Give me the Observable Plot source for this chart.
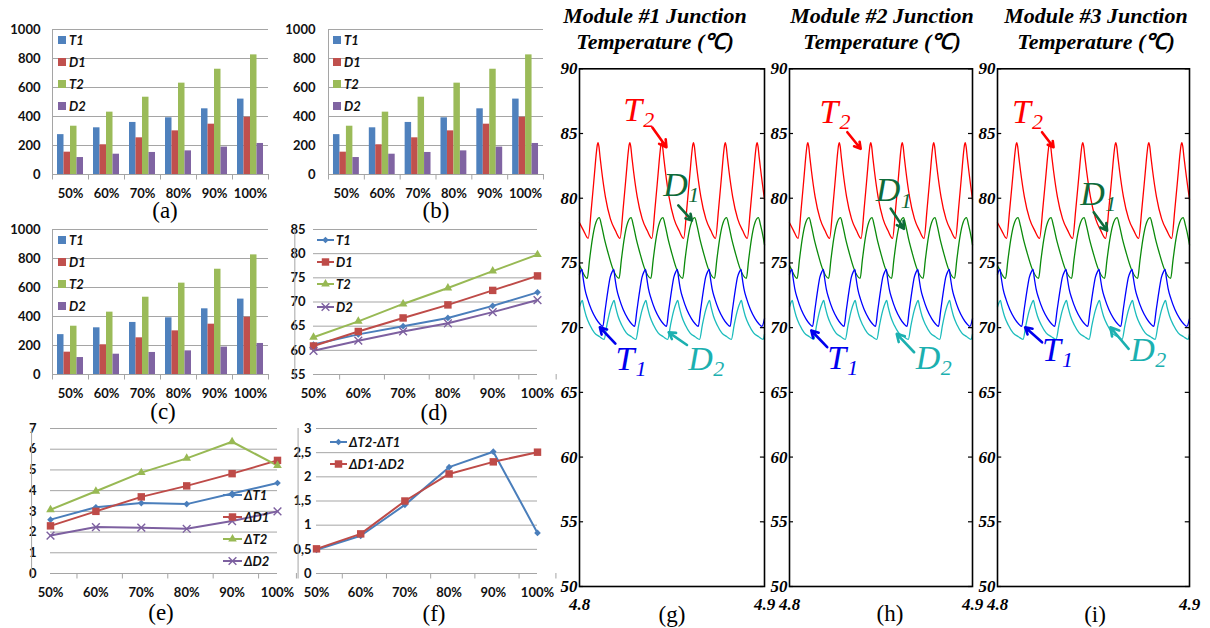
<!DOCTYPE html>
<html>
<head>
<meta charset="utf-8">
<script src="https://cdn.jsdelivr.net/npm/d3@7"></script>
<script src="https://cdn.jsdelivr.net/npm/@observablehq/plot@0.6"></script>
<style>
html, body { margin: 0; padding: 0; background: #fff; }
#root { position: relative; width: 1210px; height: 628px; overflow: hidden; background: #fff; }
.cap { position: absolute; font-family: "Liberation Serif", "Times New Roman", serif; font-size: 23px; line-height: 20px; transform: translate(-50%, -50%); white-space: nowrap; color: #000; }
.ttl { position: absolute; font-family: "Liberation Serif", serif; font-weight: bold; font-style: italic; font-size: 22px; line-height: 26px; text-align: center; transform: translateX(-50%); white-space: nowrap; color: #000; }
.lg { position: absolute; font-family: Lato, "Liberation Sans", sans-serif; font-weight: bold; font-style: italic; font-size: 13px; line-height: 16px; white-space: nowrap; color: #111; }
.sw { position: absolute; width: 8px; height: 8px; }
</style>
</head>
<body>
<div id="root"></div>
<script>
// ---------------- data ----------------
const loadLevels = ["50%", "60%", "70%", "80%", "90%", "100%"];
const barSeries = ["T1", "D1", "T2", "D2"];
// (a)(b)(c) losses
const lossT1 = [275, 322, 359, 391, 453, 520];
const lossD1 = [154, 205, 253, 301, 347, 395];
const lossT2 = [333, 430, 533, 630, 726, 825];
const lossD2 = [117, 140, 152, 163, 189, 214];
const barTicks = [0, 200, 400, 600, 800, 1000];
// (d) mean temperatures
const tempT1 = [61.2, 63.3, 65.0, 66.7, 69.2, 72.0];
const tempD1 = [60.9, 63.9, 66.7, 69.4, 72.4, 75.4];
const tempT2 = [62.7, 66.0, 69.6, 72.9, 76.4, 79.8];
const tempD2 = [59.9, 62.0, 63.9, 65.6, 67.9, 70.4];
const tempTicks = [55, 60, 65, 70, 75, 80, 85];
// (e) temperature swings
const swingNames = ["ΔT1", "ΔD1", "ΔT2", "ΔD2"];
const swingT1 = [2.6, 3.2, 3.4, 3.35, 3.86, 4.37];
const swingD1 = [2.3, 3.0, 3.7, 4.23, 4.82, 5.46];
const swingT2 = [3.08, 3.97, 4.87, 5.56, 6.36, 5.21];
const swingD2 = [1.83, 2.24, 2.21, 2.16, 2.53, 3.0];
const swingTicks = [0, 1, 2, 3, 4, 5, 6, 7];
// (f) differences
const gapNames = ["ΔT2-ΔT1", "ΔD1-ΔD2"];
const gapT = [0.49, 0.78, 1.42, 2.2, 2.52, 0.84];
const gapD = [0.51, 0.82, 1.5, 2.06, 2.31, 2.51];
const gapTicks = [0, 0.5, 1, 1.5, 2, 2.5, 3];
// (g)(h)(i) junction temperature waveforms [time s, °C]
const waveT2 = [
[4.8000,78.1],[4.8022,77.5],
[4.8047,76.9],[4.8064,79.2],[4.8081,81.9],[4.8091,83.5],[4.8096,84.1],[4.8100,84.3],[4.8105,84.0],[4.8111,83.2],[4.8120,82.1],[4.8140,80.1],[4.8167,78.4],[4.8194,77.5],
[4.8219,76.9],[4.8236,79.2],[4.8253,81.9],[4.8263,83.5],[4.8268,84.1],[4.8272,84.3],[4.8277,84.0],[4.8283,83.2],[4.8292,82.1],[4.8312,80.1],[4.8339,78.4],[4.8366,77.5],
[4.8391,76.9],[4.8408,79.2],[4.8425,81.9],[4.8435,83.5],[4.8440,84.1],[4.8444,84.3],[4.8449,84.0],[4.8455,83.2],[4.8464,82.1],[4.8484,80.1],[4.8511,78.4],[4.8538,77.5],
[4.8563,76.9],[4.8580,79.2],[4.8597,81.9],[4.8607,83.5],[4.8612,84.1],[4.8616,84.3],[4.8621,84.0],[4.8627,83.2],[4.8636,82.1],[4.8656,80.1],[4.8683,78.4],[4.8710,77.5],
[4.8735,76.9],[4.8752,79.2],[4.8769,81.9],[4.8779,83.5],[4.8784,84.1],[4.8788,84.3],[4.8793,84.0],[4.8799,83.2],[4.8808,82.1],[4.8828,80.1],[4.8855,78.4],[4.8882,77.5],
[4.8907,76.9],[4.8924,79.2],[4.8941,81.9],[4.8951,83.5],[4.8956,84.1],[4.8960,84.3],[4.8965,84.0],[4.8971,83.2],[4.8980,82.1],[4.9000,79.9]
];
const waveD1 = [
[4.8000,74.8],[4.8007,74.6],
[4.8042,73.8],[4.8054,75.2],[4.8069,76.8],[4.8084,77.9],[4.8107,78.5],[4.8119,77.9],[4.8134,76.9],[4.8154,75.8],[4.8179,74.6],
[4.8214,73.8],[4.8226,75.2],[4.8241,76.8],[4.8256,77.9],[4.8279,78.5],[4.8291,77.9],[4.8306,76.9],[4.8326,75.8],[4.8351,74.6],
[4.8386,73.8],[4.8398,75.2],[4.8413,76.8],[4.8428,77.9],[4.8451,78.5],[4.8463,77.9],[4.8478,76.9],[4.8498,75.8],[4.8523,74.6],
[4.8558,73.8],[4.8570,75.2],[4.8585,76.8],[4.8600,77.9],[4.8623,78.5],[4.8635,77.9],[4.8650,76.9],[4.8670,75.8],[4.8695,74.6],
[4.8730,73.8],[4.8742,75.2],[4.8757,76.8],[4.8772,77.9],[4.8795,78.5],[4.8807,77.9],[4.8822,76.9],[4.8842,75.8],[4.8867,74.6],
[4.8902,73.8],[4.8914,75.2],[4.8929,76.8],[4.8944,77.9],[4.8967,78.5],[4.8979,77.9],[4.8994,76.9],[4.9000,76.4]
];
const waveT1 = [
[4.8000,74.1],[4.8004,74.3],[4.8013,74.5],[4.8019,73.9],[4.8029,73.0],[4.8044,72.2],[4.8064,71.4],[4.8089,70.7],[4.8109,70.3],
[4.8126,70.1],[4.8138,71.3],[4.8154,72.9],[4.8166,73.9],[4.8176,74.3],[4.8185,74.5],[4.8191,73.9],[4.8201,73.0],[4.8216,72.2],[4.8236,71.4],[4.8261,70.7],[4.8281,70.3],
[4.8298,70.1],[4.8310,71.3],[4.8326,72.9],[4.8338,73.9],[4.8348,74.3],[4.8357,74.5],[4.8363,73.9],[4.8373,73.0],[4.8388,72.2],[4.8408,71.4],[4.8433,70.7],[4.8453,70.3],
[4.8470,70.1],[4.8482,71.3],[4.8498,72.9],[4.8510,73.9],[4.8520,74.3],[4.8529,74.5],[4.8535,73.9],[4.8545,73.0],[4.8560,72.2],[4.8580,71.4],[4.8605,70.7],[4.8625,70.3],
[4.8642,70.1],[4.8654,71.3],[4.8670,72.9],[4.8682,73.9],[4.8692,74.3],[4.8701,74.5],[4.8707,73.9],[4.8717,73.0],[4.8732,72.2],[4.8752,71.4],[4.8777,70.7],[4.8797,70.3],
[4.8814,70.1],[4.8826,71.3],[4.8842,72.9],[4.8854,73.9],[4.8864,74.3],[4.8873,74.5],[4.8879,73.9],[4.8889,73.0],[4.8904,72.2],[4.8924,71.4],[4.8949,70.7],[4.8969,70.3],
[4.8986,70.1],[4.9000,70.7]
];
const waveD2 = [
[4.8000,71.6],[4.8007,71.9],[4.8015,72.1],[4.8023,71.6],[4.8036,70.9],[4.8056,70.2],[4.8081,69.6],[4.8109,69.3],
[4.8133,69.1],[4.8148,70.2],[4.8165,71.3],[4.8179,71.9],[4.8187,72.1],[4.8195,71.6],[4.8208,70.9],[4.8228,70.2],[4.8253,69.6],[4.8281,69.3],
[4.8305,69.1],[4.8320,70.2],[4.8337,71.3],[4.8351,71.9],[4.8359,72.1],[4.8367,71.6],[4.8380,70.9],[4.8400,70.2],[4.8425,69.6],[4.8453,69.3],
[4.8477,69.1],[4.8492,70.2],[4.8509,71.3],[4.8523,71.9],[4.8531,72.1],[4.8539,71.6],[4.8552,70.9],[4.8572,70.2],[4.8597,69.6],[4.8625,69.3],
[4.8649,69.1],[4.8664,70.2],[4.8681,71.3],[4.8695,71.9],[4.8703,72.1],[4.8711,71.6],[4.8724,70.9],[4.8744,70.2],[4.8769,69.6],[4.8797,69.3],
[4.8821,69.1],[4.8836,70.2],[4.8853,71.3],[4.8867,71.9],[4.8875,72.1],[4.8883,71.6],[4.8896,70.9],[4.8916,70.2],[4.8941,69.6],[4.8969,69.3],
[4.8993,69.1],[4.9000,69.5]
];
const waveTicks = [50, 55, 60, 65, 70, 75, 80, 85, 90];
// annotation anchors (data units) for each module panel
const notesG = [
  {letter: "T", sub: "2", color: "#ff0000", tx: 4.8237, ty: 86.8, ax1: 4.8394, ay1: 85.46, ax2: 4.8470, ay2: 83.94},
  {letter: "D", sub: "1", color: "#0e6b3a", tx: 4.8453, ty: 81.02, ax1: 4.8534, ay1: 79.44, ax2: 4.8608, ay2: 78.28},
  {letter: "T", sub: "1", color: "#0000ee", tx: 4.8194, ty: 67.57, ax1: 4.8194, ay1: 68.77, ax2: 4.8110, ay2: 70.03},
  {letter: "D", sub: "2", color: "#1cb0b0", tx: 4.8588, ty: 67.57, ax1: 4.8581, ay1: 68.66, ax2: 4.8482, ay2: 69.64}
];
const notesH = [
  {letter: "T", sub: "2", color: "#ff0000", tx: 4.8164, ty: 86.66, ax1: 4.8316, ay1: 85.1, ax2: 4.8389, ay2: 83.82},
  {letter: "D", sub: "1", color: "#0e6b3a", tx: 4.8471, ty: 80.6, ax1: 4.8553, ay1: 79.2, ax2: 4.8626, ay2: 77.64},
  {letter: "T", sub: "1", color: "#0000ee", tx: 4.8206, ty: 67.65, ax1: 4.8206, ay1: 68.49, ax2: 4.8119, ay2: 69.78},
  {letter: "D", sub: "2", color: "#1cb0b0", tx: 4.8690, ty: 67.65, ax1: 4.8681, ay1: 68.1, ax2: 4.8586, ay2: 69.52}
];
const notesI = [
  {letter: "T", sub: "2", color: "#ff0000", tx: 4.8075, ty: 86.66, ax1: 4.8232, ay1: 85.1, ax2: 4.8292, ay2: 83.94},
  {letter: "D", sub: "1", color: "#0e6b3a", tx: 4.8431, ty: 80.32, ax1: 4.8501, ay1: 78.92, ax2: 4.8571, ay2: 77.5},
  {letter: "T", sub: "1", color: "#0000ee", tx: 4.8232, ty: 68.27, ax1: 4.8232, ay1: 68.87, ax2: 4.8144, ay2: 70.03},
  {letter: "D", sub: "2", color: "#1cb0b0", tx: 4.8692, ty: 68.27, ax1: 4.8683, ay1: 68.36, ax2: 4.8588, ay2: 70.03}
];

// ---------------- helpers ----------------
const root = document.getElementById("root");
const gridColor = "#a5a5a5";
const barColors = ["#4f81bd", "#c0504d", "#9bbb59", "#8064a2"];
const symbolMap = {diamond2: d3.symbolDiamond2, square: d3.symbolSquare, triangle: d3.symbolTriangle, times: d3.symbolTimes};
function put(el, left, top) {
  el.style.position = "absolute";
  el.style.left = left + "px";
  el.style.top = top + "px";
  root.appendChild(el);
  return el;
}
const excelStyle = {background: "transparent", overflow: "visible", fontFamily: "Lato, 'Liberation Sans', sans-serif", fontSize: "13px", fontWeight: "bold", color: "#111"};

function barChart(o) {
  const bw = (o.width - o.ml - o.mr) / loadLevels.length;
  const values = [lossT1, lossD1, lossT2, lossD2];
  const tl = 5.5 * 1000 / (o.height - o.mt - o.mb);
  const bars = values.map((vals, j) => Plot.barY(loadLevels.map((c, i) => ({cat: c, v: vals[i]})), {
    x: "cat", y: "v", fill: barColors[j],
    insetLeft: bw * (5 + 6.5 * j) / 36, insetRight: bw * (36 - 5 - 6.5 * (j + 1)) / 36
  }));
  const svg = Plot.plot({
    width: o.width, height: o.height,
    marginLeft: o.ml, marginRight: o.mr, marginTop: o.mt, marginBottom: o.mb,
    style: excelStyle,
    x: {domain: loadLevels, padding: 0, round: false, tickSize: 0, tickPadding: 14, label: null},
    y: {domain: [0, 1000], ticks: barTicks, tickSize: 0, tickPadding: o.pad, label: null, tickFormat: d => String(d)},
    marks: [
      Plot.ruleY(barTicks.slice(1), {stroke: gridColor}),
      Plot.ruleX([loadLevels[0]], {y1: 0, y2: 1000, dx: -bw / 2, stroke: gridColor}),
      ...bars,
      Plot.ruleY([0], {stroke: gridColor}),
      Plot.ruleX(loadLevels, {y1: 0, y2: -tl, dx: -bw / 2, stroke: gridColor}),
      Plot.ruleX([loadLevels[5]], {y1: 0, y2: -tl, dx: bw / 2, stroke: gridColor})
    ]
  });
  put(svg, o.left, o.top);
  // legend
  barSeries.forEach((name, j) => {
    const sw = document.createElement("div");
    sw.className = "sw";
    sw.style.background = barColors[j];
    put(sw, o.legX, o.legY + 22 * j - 4);
    const t = document.createElement("div");
    t.className = "lg";
    t.textContent = name;
    put(t, o.legX + 11, o.legY + 22 * j - 8);
  });
}

function lineChart(o) {
  const bw = (o.width - o.ml - o.mr) / loadLevels.length;
  const [y0, y1] = o.domain;
  const tl = 5.5 * (y1 - y0) / (o.height - o.mt - o.mb);
  const marks = [
    Plot.ruleY(o.ticks.slice(1), {stroke: gridColor}),
    Plot.ruleX([loadLevels[0]], {y1: y0, y2: y1, dx: -bw / 2, stroke: gridColor}),
    Plot.ruleY([y0], {stroke: gridColor}),
    Plot.ruleX(loadLevels, {y1: y0, y2: y0 - tl, dx: -bw / 2, stroke: gridColor}),
    Plot.ruleX([loadLevels[5]], {y1: y0, y2: y0 - tl, dx: bw / 2, stroke: gridColor})
  ];
  const rowsOf = s => loadLevels.map((c, i) => ({cat: c, v: s.values[i]}));
  for (const s of o.series) {
    marks.push(Plot.line(rowsOf(s), {x: "cat", y: "v", stroke: s.color, strokeWidth: 2}));
  }
  for (const s of o.series) {
    if (s.symbol === "times") marks.push(Plot.dot(rowsOf(s), {x: "cat", y: "v", symbol: s.symbol, r: s.r, stroke: s.color, strokeWidth: 1.4}));
    else marks.push(Plot.dot(rowsOf(s), {x: "cat", y: "v", symbol: s.symbol, r: s.r, fill: s.color}));
  }
  const svg = Plot.plot({
    width: o.width, height: o.height,
    marginLeft: o.ml, marginRight: o.mr, marginTop: o.mt, marginBottom: o.mb,
    style: excelStyle,
    x: {domain: loadLevels, padding: 0, round: false, tickSize: 0, tickPadding: 14, label: null},
    y: {domain: o.domain, ticks: o.ticks, tickSize: 0, tickPadding: o.pad, label: null, tickFormat: o.fmt},
    marks
  });
  put(svg, o.left, o.top);
  // legend
  o.series.forEach((s, j) => {
    const y = o.legY[j];
    const w = o.legW;
    const g = d3.create("svg").attr("width", w).attr("height", 14).style("overflow", "visible");
    g.append("line").attr("x1", 0).attr("x2", w).attr("y1", 7).attr("y2", 7).attr("stroke", s.color).attr("stroke-width", 2);
    const p = d3.symbol(symbolMap[s.symbol], Math.PI * s.r * s.r)();
    const sym = g.append("path").attr("d", p).attr("transform", `translate(${w / 2},7)`);
    if (s.symbol === "times") sym.attr("fill", "none").attr("stroke", s.color).attr("stroke-width", 1.4);
    else sym.attr("fill", s.color);
    put(g.node(), o.legX, y - 7);
    const t = document.createElement("div");
    t.className = "lg";
    t.textContent = s.name;
    put(t, o.legX + w + 2, y - 8);
  });
}

function wavePanel(o) {
  const lineOpts = {x: d => d[0], y: d => d[1], strokeWidth: 1.3, curve: "monotone-x"};
  const marks = [
    Plot.line(waveT2, {...lineOpts, stroke: "#ff0000"}),
    Plot.line(waveD1, {...lineOpts, stroke: "#0b8a0b"}),
    Plot.line(waveT1, {...lineOpts, stroke: "#0000ff"}),
    Plot.line(waveD2, {...lineOpts, stroke: "#1cbcbc"}),
    Plot.ruleY(waveTicks, {x1: 4.8, x2: 4.8022, stroke: "#000", strokeWidth: 1.2}),
    Plot.ruleY(waveTicks, {x1: 4.8978, x2: 4.9, stroke: "#000", strokeWidth: 1.2}),
    Plot.frame({stroke: "#000", strokeWidth: 1.6})
  ];
  for (const n of o.notes) {
    marks.push(Plot.arrow([n], {x1: "ax1", y1: "ay1", x2: "ax2", y2: "ay2", stroke: n.color, strokeWidth: 2.6, headLength: 9}));
    marks.push(Plot.text([n], {x: "tx", y: "ty", text: "letter", fill: n.color, textAnchor: "start", fontSize: 34, fontFamily: "Liberation Serif", fontStyle: "italic", fontWeight: "normal"}));
    marks.push(Plot.text([n], {x: "tx", y: "ty", text: "sub", fill: n.color, textAnchor: "start", fontSize: 22, dx: n.letter === "T" ? 20 : 25, dy: 10, fontFamily: "Liberation Serif", fontStyle: "italic", fontWeight: "normal"}));
  }
  const svg = Plot.plot({
    width: o.width, height: o.height,
    marginLeft: o.ml, marginRight: o.mr, marginTop: o.mt, marginBottom: o.mb,
    style: {background: "transparent", overflow: "visible", fontFamily: "'Liberation Serif', serif", fontSize: "17px", fontWeight: "bold", fontStyle: "italic", color: "#000"},
    x: {domain: [4.8, 4.9], ticks: [4.8, 4.9], tickFormat: ".1f", tickSize: 0, tickPadding: 11, label: null},
    y: {domain: [50, 90], ticks: waveTicks, tickSize: 0, tickPadding: 2, label: null},
    marks
  });
  put(svg, o.left, o.top);
  const t = document.createElement("div");
  t.className = "ttl";
  t.innerHTML = o.title1 + "<br>" + o.title2;
  put(t, o.titleX, 3);
}

function caption(text, x, y) {
  const d = document.createElement("div");
  d.className = "cap";
  d.textContent = text;
  put(d, x, y);
}

// ---------------- panels ----------------
barChart({left: 0, top: 0, width: 280, height: 205, ml: 52, mr: 12, mt: 29, mb: 31, pad: 12, legX: 58, legY: 40});
barChart({left: 280, top: 0, width: 280, height: 205, ml: 48, mr: 17, mt: 29, mb: 31, pad: 13, legX: 333, legY: 40});
barChart({left: 0, top: 200, width: 280, height: 205, ml: 52, mr: 12, mt: 29, mb: 31, pad: 12, legX: 58, legY: 240});

lineChart({
  left: 280, top: 200, width: 280, height: 205, ml: 33, mr: 23, mt: 29, mb: 31, pad: 8,
  domain: [55, 85], ticks: tempTicks, fmt: d => String(d),
  series: [
    {name: "T1", values: tempT1, color: "#4a7ebb", symbol: "diamond2", r: 3},
    {name: "D1", values: tempD1, color: "#be4b48", symbol: "square", r: 4.2},
    {name: "T2", values: tempT2, color: "#98b954", symbol: "triangle", r: 3.2},
    {name: "D2", values: tempD2, color: "#7d60a0", symbol: "times", r: 3.6}
  ],
  legX: 317, legW: 17, legY: [240, 262, 284, 307]
});

lineChart({
  left: 0, top: 410, width: 280, height: 195, ml: 50, mr: 3, mt: 18, mb: 32, pad: 14,
  domain: [0, 7], ticks: swingTicks, fmt: d => String(d),
  series: [
    {name: "ΔT1", values: swingT1, color: "#4a7ebb", symbol: "diamond2", r: 3},
    {name: "ΔD1", values: swingD1, color: "#be4b48", symbol: "square", r: 4.2},
    {name: "ΔT2", values: swingT2, color: "#98b954", symbol: "triangle", r: 3.2},
    {name: "ΔD2", values: swingD2, color: "#7d60a0", symbol: "times", r: 3.6}
  ],
  legX: 223, legW: 19, legY: [495, 517, 539, 561]
});

lineChart({
  left: 280, top: 410, width: 280, height: 195, ml: 36, mr: 23, mt: 18, mb: 32, pad: 5,
  domain: [0, 3], ticks: gapTicks, fmt: d => String(d).replace(".", ","),
  series: [
    {name: "ΔT2-ΔT1", values: gapT, color: "#4a7ebb", symbol: "diamond2", r: 3},
    {name: "ΔD1-ΔD2", values: gapD, color: "#be4b48", symbol: "square", r: 4.2}
  ],
  legX: 330, legW: 17, legY: [442, 464]
});

wavePanel({left: 550, top: 58, width: 220, height: 560, ml: 29, mr: 6, mt: 10.3, mb: 32, notes: notesG, title1: "Module #1 Junction", title2: "Temperature (℃)", titleX: 655});
wavePanel({left: 765, top: 58, width: 213, height: 560, ml: 24, mr: 6, mt: 10.3, mb: 32, notes: notesH, title1: "Module #2 Junction", title2: "Temperature (℃)", titleX: 882});
wavePanel({left: 972, top: 58, width: 225, height: 560, ml: 25, mr: 8, mt: 10.3, mb: 32, notes: notesI, title1: "Module #3 Junction", title2: "Temperature (℃)", titleX: 1096});

caption("(a)", 165, 211);
caption("(b)", 436, 211);
caption("(c)", 163, 412);
caption("(d)", 434, 413);
caption("(e)", 161, 613);
caption("(f)", 434, 614);
caption("(g)", 672, 615);
caption("(h)", 890, 614);
caption("(i)", 1095, 615);
</script>
</body>
</html>
